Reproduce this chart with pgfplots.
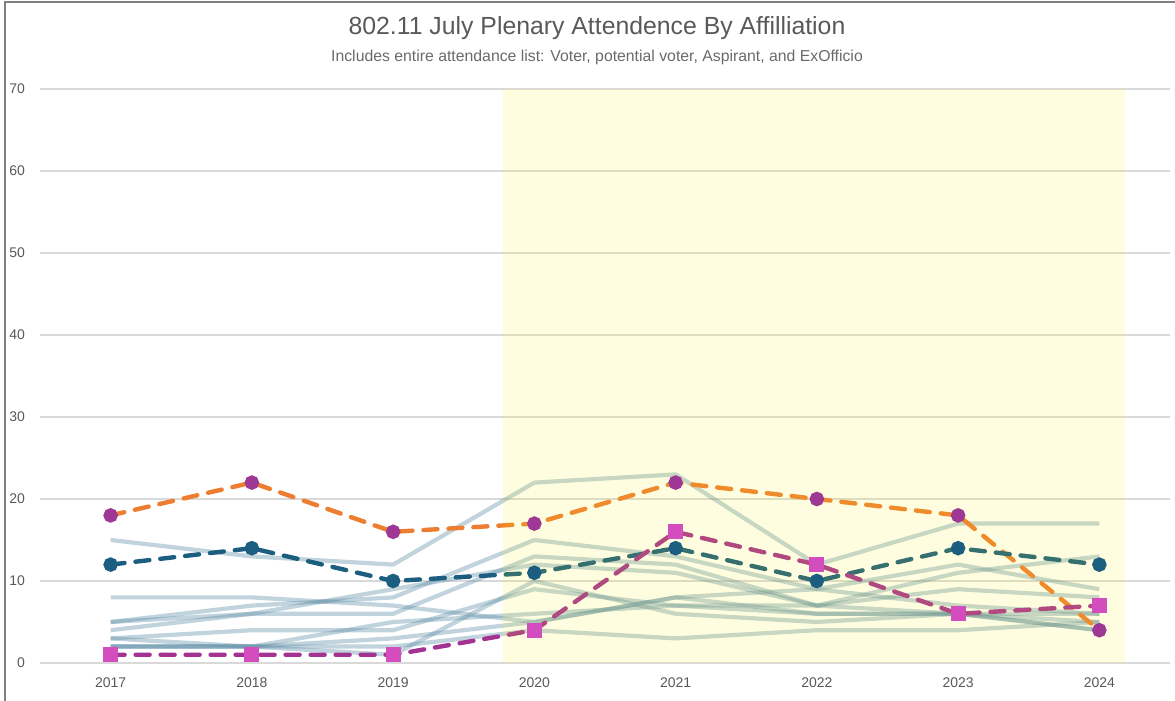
\documentclass[border=0pt]{standalone}
\usepackage{pgfplots}
\pgfplotsset{compat=1.18}
\usepackage{pgfplotstable}
\usepackage{fontspec}
\setmainfont{Liberation Sans}

\definecolor{lightln}{RGB}{92,140,165}
\definecolor{orng}{RGB}{237,125,49}
\definecolor{purp}{RGB}{158,56,148}
\definecolor{dblue}{RGB}{27,94,128}
\definecolor{magln}{RGB}{164,50,146}
\definecolor{pinkmk}{RGB}{212,77,190}
\definecolor{gridc}{RGB}{217,217,217}
\definecolor{txt}{RGB}{89,89,89}

% the pale lines: one column for each affiliation
\pgfplotstableread{
x  a  b  c  d  e  f  g  h  i  j
0 15  8  5  5  4  3  2  2  2  3
1 13  8  7  6  6  4  2  2  2  2
2 12  7  8  6  9  4  5  3  2  1
3 22  5 15 13 12  9  6  5  4 10
4 23  8 13 12 11  7  7  8  3  6
5 12  9  9  7  7  6  7  6  4  5
6 17 12  7 11  9  6  6  6  4  6
7 17  9  6 13  8  5  6  4  5  4
}\light

\begin{document}
\begin{tikzpicture}
\begin{axis}[
  at={(0,0)}, scale only axis,
  width=565pt, height=287pt,
  xmin=-0.5, xmax=7.5, ymin=0, ymax=70,
  axis line style={draw=none},
  xtick={0,...,7},
  xticklabels={2017,2018,2019,2020,2021,2022,2023,2024},
  ytick={0,10,...,70},
  major tick style={draw=none},
  ymajorgrids, grid style={gridc, line width=0.6pt},
  tick label style={font=\fontsize{7}{8}\selectfont, text=txt},
  /pgf/number format/assume math mode=true,
  yticklabel style={xshift=-4pt},
  xticklabel style={yshift=-4pt},
  clip=false,
]
\pgfplotsinvokeforeach{1,...,10}{
  \addplot[lightln, opacity=0.38, line width=2.1pt, line join=round] table[x index=0, y index=#1] {\light};
}
\addplot[orng, line width=2.2pt, dash pattern=on 7pt off 5.5pt, line cap=round,
  mark=*, mark size=2.5pt, mark options={solid, fill=purp, draw=purp}]
  coordinates {(0,18) (1,22) (2,16) (3,17) (4,22) (5,20) (6,18) (7,4)};
\addplot[dblue, line width=2.2pt, dash pattern=on 7pt off 5.5pt, line cap=round,
  mark=*, mark size=2.5pt, mark options={solid, fill=dblue, draw=dblue}]
  coordinates {(0,12) (1,14) (2,10) (3,11) (4,14) (5,10) (6,14) (7,12)};
\addplot[magln, line width=2.2pt, dash pattern=on 7pt off 5.5pt, line cap=round,
  mark=square*, mark size=2.7pt, mark options={solid, fill=pinkmk, draw=pinkmk}]
  coordinates {(0,1) (1,1) (2,1) (3,4) (4,16) (5,12) (6,6) (7,7)};
% yellow band over the pandemic years
\fill[yellow, opacity=0.12] (axis cs:2.78,0) rectangle (axis cs:7.18,70);
\end{axis}
\node[text=txt, font=\fontsize{12.4}{14}\selectfont] at (278.5pt,317.5pt) {802.11 July Plenary Attendence By Affilliation};
\node[text=txt!90, font=\fontsize{7.9}{9}\selectfont] at (278.5pt,303pt) {Includes entire attendance list: Voter, potential voter, Aspirant, and ExOfficio};
\draw[gray, line width=1pt] (-17.5pt,-19pt) -- (-17.5pt,330.5pt) -- (567.5pt,330.5pt);
\pgfresetboundingbox
\path[use as bounding box] (-20pt,-19pt) rectangle (567.5pt,331.5pt);
\end{tikzpicture}
\end{document}
